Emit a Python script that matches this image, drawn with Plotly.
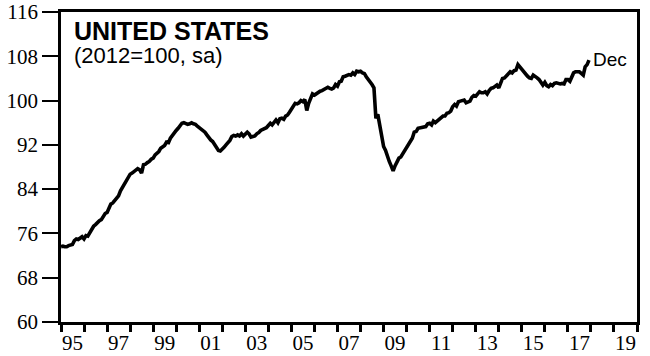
import plotly.graph_objects as go
import pandas as pd

# Monthly industrial production index, United States (2012=100, sa), Jan 1995 - Dec 2017
ip_1995 = [73.6, 73.7, 73.6, 73.6, 73.8, 73.9, 74.0, 74.7, 75.0, 74.9, 75.1, 75.4]
ip_1996 = [75.0, 75.6, 75.5, 76.2, 76.7, 77.3, 77.6, 78.0, 78.3, 78.5, 79.1, 79.6]
ip_1997 = [79.8, 80.6, 81.3, 81.5, 82.0, 82.4, 82.8, 83.7, 84.3, 85.0, 85.8, 86.3]
ip_1998 = [86.7, 86.9, 87.1, 87.3, 87.7, 87.5, 86.9, 88.4, 88.5, 88.8, 89.0, 89.4]
ip_1999 = [89.6, 90.2, 90.5, 90.8, 91.4, 91.6, 91.9, 92.5, 92.4, 93.2, 93.7, 94.3]
ip_2000 = [94.6, 95.0, 95.5, 95.9, 96.0, 95.9, 95.7, 95.8, 96.0, 95.8, 95.7, 95.4]
ip_2001 = [95.1, 94.9, 94.5, 94.3, 93.8, 93.3, 92.9, 92.6, 92.1, 91.5, 91.0, 90.9]
ip_2002 = [91.2, 91.6, 92.0, 92.4, 92.8, 93.5, 93.7, 93.6, 93.8, 93.6, 94.0, 93.6]
ip_2003 = [94.0, 94.3, 94.0, 93.4, 93.5, 93.6, 94.0, 94.2, 94.6, 94.8, 95.0, 95.1]
ip_2004 = [95.5, 95.9, 95.6, 96.2, 96.5, 96.0, 96.7, 96.8, 96.6, 97.2, 97.4, 97.9]
ip_2005 = [98.5, 99.2, 99.5, 99.4, 99.6, 100.0, 99.8, 100.2, 98.2, 99.5, 100.6, 101.2]
ip_2006 = [101.0, 101.3, 101.5, 101.7, 101.8, 102.0, 102.1, 102.4, 102.2, 102.1, 102.3, 102.9]
ip_2007 = [102.6, 103.4, 103.5, 104.3, 104.4, 104.6, 104.7, 104.6, 105.0, 104.7, 105.3, 105.2]
ip_2008 = [105.3, 105.0, 104.9, 104.3, 103.9, 103.4, 102.9, 102.3, 96.8, 97.5, 95.6, 93.6]
ip_2009 = [91.7, 91.0, 89.8, 89.0, 88.2, 87.3, 88.2, 89.0, 89.6, 89.8, 90.4, 90.9]
ip_2010 = [91.5, 91.9, 92.5, 93.2, 94.3, 94.4, 95.0, 95.1, 95.2, 95.2, 95.3, 95.8]
ip_2011 = [95.9, 95.6, 96.3, 96.0, 96.3, 96.6, 97.0, 97.2, 97.2, 97.7, 97.8, 98.1]
ip_2012 = [98.9, 99.3, 99.0, 99.8, 99.9, 100.0, 100.1, 99.6, 99.8, 99.9, 100.6, 100.9]
ip_2013 = [100.8, 101.3, 101.6, 101.4, 101.4, 101.6, 101.2, 101.8, 102.2, 102.3, 102.5, 102.8]
ip_2014 = [102.3, 103.2, 104.0, 104.1, 104.5, 104.9, 105.2, 105.0, 105.4, 105.5, 106.5, 106.1]
ip_2015 = [105.6, 105.2, 104.8, 104.4, 104.1, 104.0, 104.6, 104.4, 104.1, 103.8, 103.2, 102.8]
ip_2016 = [103.3, 102.7, 102.5, 102.9, 102.7, 103.1, 103.2, 103.1, 103.0, 103.1, 103.0, 103.8]
ip_2017 = [103.8, 103.5, 104.2, 105.0, 105.2, 105.2, 105.2, 104.9, 104.6, 106.1, 106.5, 107.3]

values = (ip_1995 + ip_1996 + ip_1997 + ip_1998 + ip_1999 + ip_2000 + ip_2001 + ip_2002
          + ip_2003 + ip_2004 + ip_2005 + ip_2006 + ip_2007 + ip_2008 + ip_2009 + ip_2010
          + ip_2011 + ip_2012 + ip_2013 + ip_2014 + ip_2015 + ip_2016 + ip_2017)
dates = pd.date_range("1995-01-01", periods=len(values), freq="MS")

y_ticks = [60, 68, 76, 84, 92, 100, 108, 116]
x_label_years = list(range(1995, 2020, 2))
x_tick_labels = [f"{y % 100:02d}" for y in x_label_years]
x_label_pos = [f"{y}-07-02" for y in x_label_years]
x_year_ticks = [f"{y}-01-01" for y in range(1995, 2021)]

title = "UNITED STATES"
subtitle = "(2012=100, sa)"
end_label = "Dec"

fig = go.Figure()
fig.add_trace(go.Scatter(x=dates, y=values, mode="lines",
                         line=dict(color="black", width=3.6), hoverinfo="skip",
                         showlegend=False))

fig.add_annotation(x=0.019, y=1, xref="paper", yref="paper", xanchor="left", yanchor="top",
                   yshift=-3, text=f"<b>{title}</b>", showarrow=False,
                   font=dict(family="Liberation Sans, Arial", size=25, color="black"))
fig.add_annotation(x=0.019, y=1, xref="paper", yref="paper", xanchor="left", yanchor="top",
                   yshift=-29, text=subtitle, showarrow=False,
                   font=dict(family="Liberation Sans, Arial", size=22, color="black"))
fig.add_annotation(x=dates[-1], y=values[-1], xanchor="left", yanchor="middle", xshift=2,
                   yshift=1, text=end_label, showarrow=False,
                   font=dict(family="Liberation Sans, Arial", size=19, color="black"))

fig.update_layout(
    width=650, height=356,
    margin=dict(l=61, r=13, t=12, b=34),
    paper_bgcolor="white", plot_bgcolor="white",
    font=dict(family="Liberation Serif, Times New Roman", size=20, color="black"),
)
fig.update_xaxes(
    type="date", range=["1995-01-01", "2020-01-01"], automargin=False,
    showgrid=False, zeroline=False,
    showline=True, linecolor="black", linewidth=2.5, mirror=True,
    tickmode="array", tickvals=x_label_pos, ticktext=x_tick_labels,
    ticks="", ticklabelstandoff=0,
    tickfont=dict(family="Liberation Serif, Times New Roman", size=21),
    minor=dict(tickmode="array", tickvals=x_year_ticks, ticks="outside",
               ticklen=7, tickwidth=2.5, tickcolor="black", showgrid=False),
)
fig.update_yaxes(
    range=[60, 116], automargin=False, showgrid=False, zeroline=False,
    showline=True, linecolor="black", linewidth=2.5, mirror=True,
    tickmode="array", tickvals=y_ticks,
    ticks="outside", ticklen=16, tickwidth=2, tickcolor="black",
    ticklabelstandoff=0,
    tickfont=dict(family="Liberation Serif, Times New Roman", size=21),
)

fig.write_html("out.html", config={"displayModeBar": False},
               post_script="document.body.style.margin='0';document.body.style.padding='0';")
